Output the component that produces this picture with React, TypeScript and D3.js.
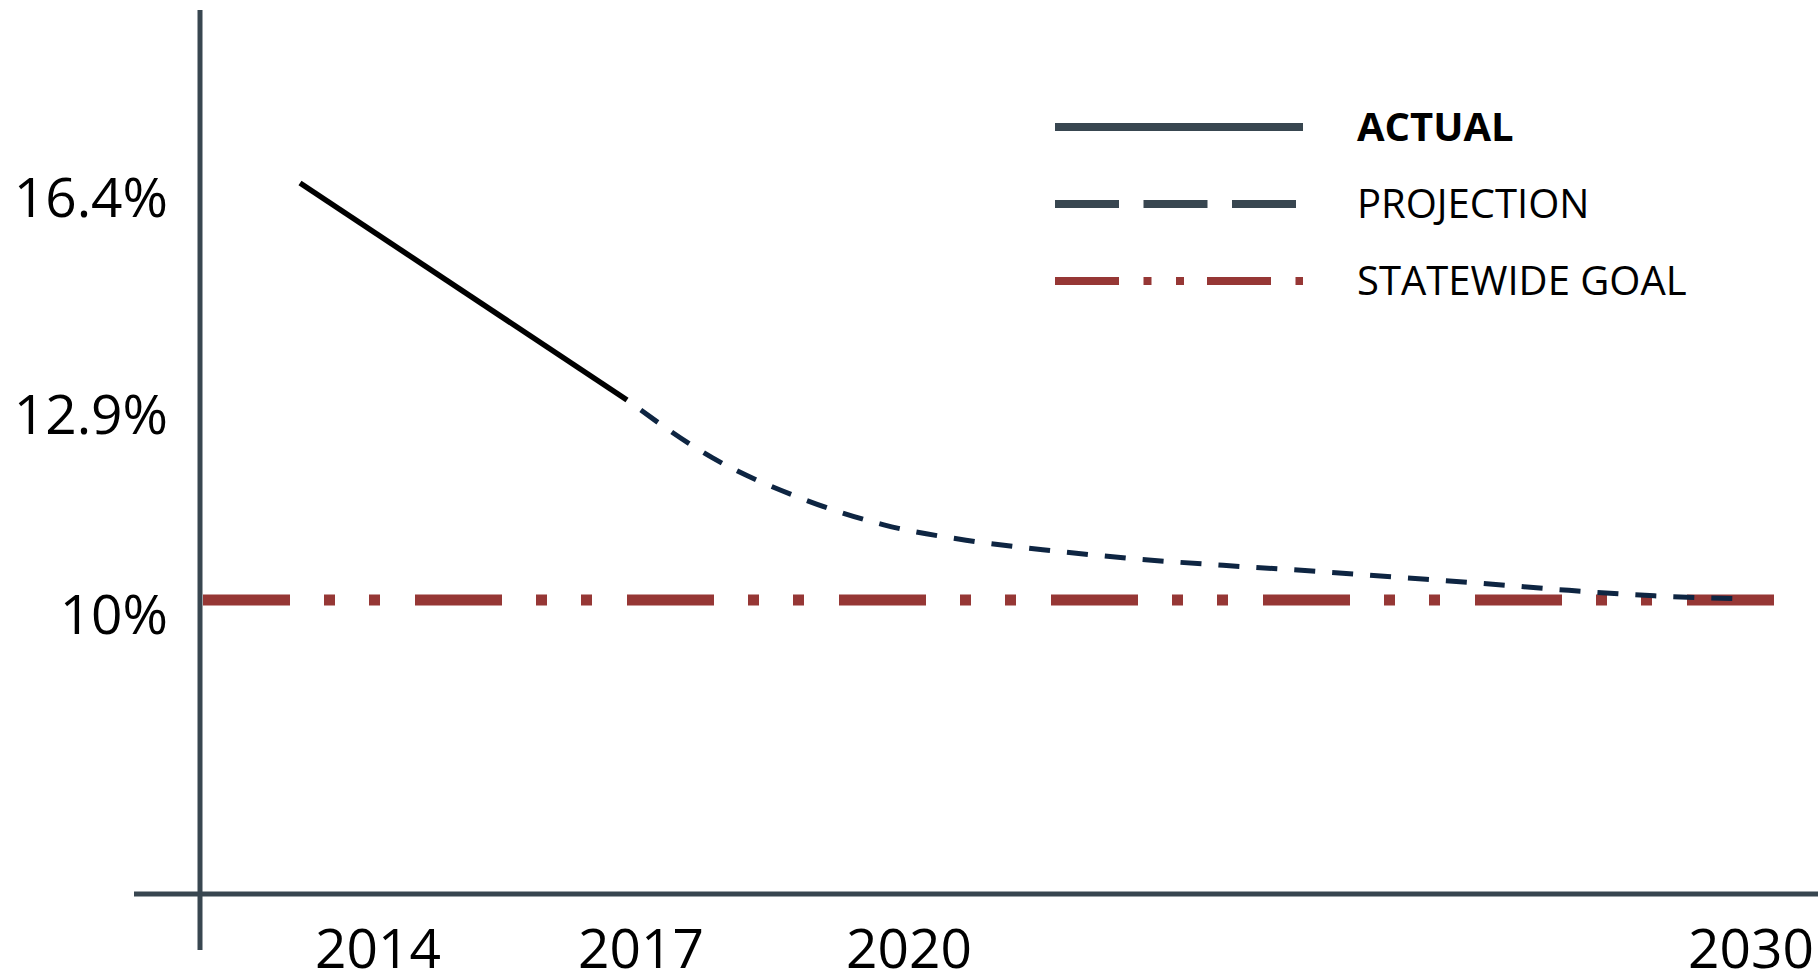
import { useEffect, useRef } from "react"
import * as d3 from "d3"

// data
const actualYears = [2014, 2017]
const actualValues = [16.4, 12.9]

const projectionYears = [2017, 2018, 2019, 2020, 2021, 2022, 2023, 2024, 2025, 2026, 2027, 2028, 2029, 2030]
const projectionValues = [12.9, 12.06, 11.49, 11.09, 10.86, 10.71, 10.59, 10.5, 10.42, 10.33, 10.24, 10.14, 10.06, 10.02]

const goalValue = 10

const yTickValues = [16.4, 12.9, 10]
const yTickLabels = ["16.4%", "12.9%", "10%"]
const xTickYears = [2014, 2017, 2020, 2030]

const legendItems = [
  { key: "actual", label: "ACTUAL", bold: true },
  { key: "projection", label: "PROJECTION", bold: false },
  { key: "goal", label: "STATEWIDE GOAL", bold: false },
]

const AXIS = "#384650"
const GOAL = "#963735"
const PROJ = "#0e2542"
const FONT = "'Open Sans', 'DejaVu Sans', sans-serif"

export default function App() {
  const svgRef = useRef<SVGSVGElement>(null)

  useEffect(() => {
    if (!svgRef.current) return
    const width = 1818
    const height = 974

    const svg = d3.select(svgRef.current)
    svg.selectAll("*").remove()
    svg.attr("width", width).attr("height", height)

    // the picture is an illustration, so the scales are piecewise
    const x = d3.scaleLinear().domain([2014, 2017, 2030]).range([300, 627, 1740])
    const xLabel = d3.scaleLinear().domain(xTickYears).range([378, 641, 909, 1751])
    const y = d3.scaleLinear().domain([10, 12.9, 16.4]).range([600, 400, 183])

    const axisX = 200
    const axisY = 894

    // axes
    svg.append("line")
      .attr("x1", axisX).attr("x2", axisX)
      .attr("y1", 10).attr("y2", 950)
      .attr("stroke", AXIS).attr("stroke-width", 5)

    svg.append("line")
      .attr("x1", 134).attr("x2", width)
      .attr("y1", axisY).attr("y2", axisY)
      .attr("stroke", AXIS).attr("stroke-width", 5)

    // y tick labels
    svg.selectAll(".ytick")
      .data(yTickValues)
      .enter()
      .append("text")
      .attr("class", "ytick")
      .attr("x", 168)
      .attr("y", d => y(d) + 34)
      .attr("text-anchor", "end")
      .attr("font-family", FONT)
      .attr("font-size", "55px")
      .attr("fill", "#000")
      .text((d, i) => yTickLabels[i])

    // x tick labels
    svg.selectAll(".xtick")
      .data(xTickYears)
      .enter()
      .append("text")
      .attr("class", "xtick")
      .attr("x", d => xLabel(d))
      .attr("y", 968)
      .attr("text-anchor", "middle")
      .attr("font-family", FONT)
      .attr("font-size", "55px")
      .attr("fill", "#000")
      .text(d => String(d))

    // statewide goal
    svg.append("line")
      .attr("x1", axisX + 3).attr("x2", x(2030) + 40)
      .attr("y1", y(goalValue)).attr("y2", y(goalValue))
      .attr("stroke", GOAL).attr("stroke-width", 11)
      .attr("stroke-dasharray", "87 34 11 34 11 35")

    // projection
    const projLine = d3.line<number>()
      .x((d, i) => x(projectionYears[i]))
      .y(d => y(d))
      .curve(d3.curveMonotoneX)

    svg.append("path")
      .attr("d", projLine(projectionValues))
      .attr("fill", "none")
      .attr("stroke", PROJ).attr("stroke-width", 5)
      .attr("stroke-dasharray", "21 17")
      .attr("stroke-dashoffset", 21)

    // actual
    const actualLine = d3.line<number>()
      .x((d, i) => x(actualYears[i]))
      .y(d => y(d))

    svg.append("path")
      .attr("d", actualLine(actualValues))
      .attr("fill", "none")
      .attr("stroke", "#000").attr("stroke-width", 5.5)

    // legend
    const legend = svg.append("g").attr("transform", "translate(1055, 127)")
    const rowGap = 77
    const dashes: Record<string, string | null> = {
      actual: null,
      projection: "64 24.5",
      goal: "64 24.5 8 24.5 8 23",
    }

    const rows = legend.selectAll(".legend-item")
      .data(legendItems)
      .enter()
      .append("g")
      .attr("class", "legend-item")
      .attr("transform", (d, i) => `translate(0, ${i * rowGap})`)

    rows.append("line")
      .attr("x1", 0).attr("x2", 248)
      .attr("y1", 0).attr("y2", 0)
      .attr("stroke", d => (d.key === "goal" ? GOAL : AXIS))
      .attr("stroke-width", 8)
      .attr("stroke-dasharray", d => dashes[d.key])

    rows.append("text")
      .attr("x", 302)
      .attr("y", 14)
      .attr("font-family", FONT)
      .attr("font-size", "40px")
      .attr("font-weight", d => (d.bold ? 700 : 400))
      .attr("fill", "#000")
      .text(d => d.label)
  }, [])

  return (
    <div style={{ position: "absolute", left: 0, top: 0, background: "#fff" }}>
      <svg ref={svgRef} style={{ display: "block" }} />
    </div>
  )
}
